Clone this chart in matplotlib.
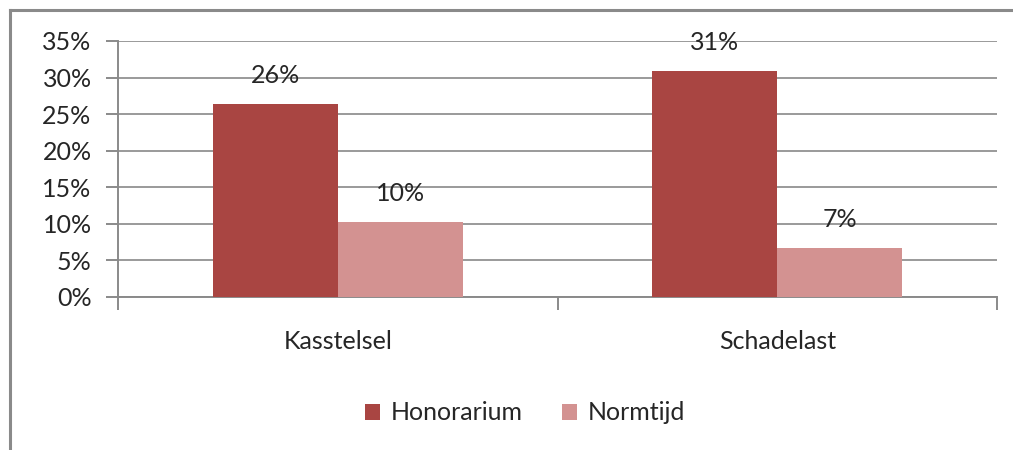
import matplotlib
matplotlib.use("Agg")
import matplotlib.pyplot as plt
from matplotlib.patches import Patch
from matplotlib.lines import Line2D
import numpy as np

categories = ["Kasstelsel", "Schadelast"]
series_names = ["Honorarium", "Normtijd"]
honorarium = [0.264, 0.309]
normtijd = [0.103, 0.067]
yticks = [0, 0.05, 0.10, 0.15, 0.20, 0.25, 0.30, 0.35]
ytick_labels = ["0%", "5%", "10%", "15%", "20%", "25%", "30%", "35%"]

colors = ["#A94542", "#D39291"]
plt.rcParams['font.family'] = ['Lato', 'DejaVu Sans']
FS = 18

fig = plt.figure(figsize=(10.13, 4.5), dpi=100)
ax = fig.add_axes([118/1013, 1-297/450, (997-118)/1013, (297-41)/450])

x = np.arange(len(categories))
w = 0.2844
series = [honorarium, normtijd]
for i, (vals, c) in enumerate(zip(series, colors)):
    pos = x + (i - 0.5) * w
    bars = ax.bar(pos, vals, width=w, color=c, zorder=3, label=series_names[i])
    for b, v in zip(bars, vals):
        ax.annotate(f"{round(v*100):.0f}%", (b.get_x() + b.get_width()/2, v),
                    xytext=(0, 20.5), textcoords="offset points",
                    ha="center", va="center", fontsize=FS, color="#262626", zorder=4)

ax.set_xlim(-0.5, 1.5)
ax.set_ylim(0, 0.35)
ax.set_yticks(yticks)
ax.set_yticklabels(ytick_labels, fontsize=FS, color="#262626")
ax.yaxis.grid(True, color="#9a9a9a", lw=1.4, zorder=0)
ax.set_axisbelow(True)

# x ticks at category boundaries, labels at centers
ax.set_xticks([-0.5, 0.5, 1.5])
ax.set_xticklabels([])
ax.set_xticks(x, minor=True)
ax.set_xticklabels(categories, minor=True, fontsize=FS, color="#262626")
ax.tick_params(axis="x", which="minor", length=0, pad=24)
ax.tick_params(axis="x", which="major", length=9, width=1.4, color="#8a8a8a")
ax.tick_params(axis="y", length=9, width=1.4, color="#8a8a8a", pad=10)

for s in ["top", "right"]:
    ax.spines[s].set_visible(False)
ax.spines["left"].set_color("#8a8a8a")
ax.spines["left"].set_linewidth(1.4)
ax.spines["bottom"].set_color("#8a8a8a")
ax.spines["bottom"].set_linewidth(1.4)

handles = [Patch(facecolor=c, edgecolor="none") for c in colors]
fig.legend(handles, series_names, loc="center", bbox_to_anchor=(525/1013, 1-413/450),
           ncol=2, frameon=False, fontsize=FS, handlelength=0.6, handleheight=0.6,
           handletextpad=0.4, columnspacing=1.6, labelcolor="#262626")

# outer border (left and top visible)
fig.add_artist(Line2D([10/1013, 10/1013], [0, 1-10/450], color="#8a8a8a", lw=2.2, transform=fig.transFigure))
fig.add_artist(Line2D([10/1013, 1], [1-10/450, 1-10/450], color="#8a8a8a", lw=2.2, transform=fig.transFigure))

fig.savefig("out.png", dpi=100)
